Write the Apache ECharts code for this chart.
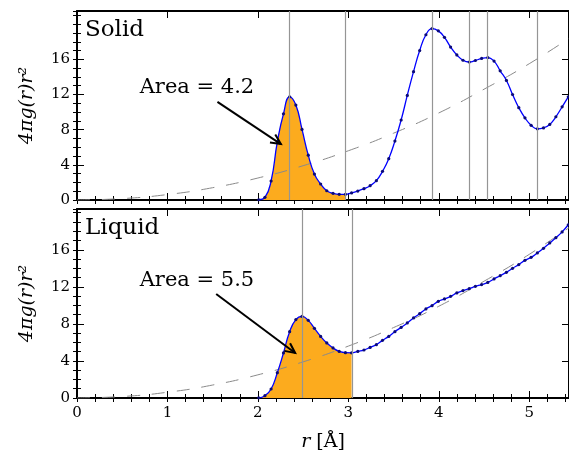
<!DOCTYPE html>
<html><head><meta charset="utf-8">
<script src="https://cdn.jsdelivr.net/npm/echarts@6/dist/echarts.min.js"></script>
<style>html,body{margin:0;padding:0;background:#fff}#c{width:569px;height:454px}</style>
</head><body><div id="c"></div>
<script>
// ---- data ----
const r = [2.009,2.078,2.146,2.215,2.283,2.351,2.420,2.488,2.557,2.625,2.694,2.762,2.831,2.899,2.968,3.036,3.105,3.173,3.241,3.310,3.378,3.447,3.515,3.584,3.652,3.721,3.789,3.858,3.926,3.995,4.063,4.131,4.200,4.268,4.337,4.405,4.474,4.542,4.611,4.679,4.748,4.816,4.885,4.953,5.021,5.090,5.158,5.227,5.295,5.364,5.432];
const solid = [0.03,0.3,2.16,6.6,9.8,11.74,10.8,8.03,5.1,2.95,1.82,1.05,0.76,0.64,0.64,0.8,1.02,1.29,1.63,2.2,3.26,4.7,6.7,9.1,11.9,14.6,17.0,18.8,19.5,19.24,18.5,17.4,16.5,15.9,15.7,15.87,16.1,16.2,15.8,14.7,13.6,12.0,10.5,9.35,8.5,8.1,8.2,8.6,9.47,10.6,11.74];
const liquid = [0.02,0.25,0.97,2.73,4.86,7.16,8.46,8.81,8.38,7.52,6.65,5.94,5.4,5.03,4.89,4.88,5.03,5.18,5.46,5.76,6.22,6.65,7.16,7.62,8.1,8.64,9.1,9.61,9.97,10.43,10.69,10.97,11.34,11.59,11.8,12.05,12.24,12.48,12.85,13.2,13.56,14.0,14.4,14.86,15.18,15.66,16.16,16.74,17.3,17.93,18.7];
const refR = [0,0.5,1,1.5,2,2.5,3,3.5,4,4.5,5,5.5];
const refV = [0,0.16,0.62,1.4,2.5,3.9,5.6,7.6,9.9,12.6,15.5,18.8];
const solidLines = [2.351,2.968,3.926,4.337,4.542,5.090];
const liquidLines = [2.488,3.036];
const fillEnd = [2.968, 3.036];
const panelNames = ['Solid','Liquid'];
const areaLabels = ['Area = 4.2','Area = 5.5'];
const areaTextPos = [[1.326,12.82],[1.326,12.72]];
const arrowFrom = [[1.553,11.17],[1.539,11.23]];
const arrowTo = [[2.254,6.36],[2.412,4.86]];
const xTicks = [0,1,2,3,4,5];
const yTicks = [0,4,8,12,16];

// ---- styling / layout ----
const FONT = 'DejaVu Serif';
const XMAX = 5.44;
const YMAX = [21.5, 20.4];
const ORANGE = '#fcab1e';
const grids = [{left:77,right:0,top:11,height:189},{left:77,right:0,top:209,height:189}];

const chart = echarts.init(document.getElementById('c'));
const xAxis = [], yAxis = [], series = [];
grids.forEach((g, gi) => {
  const spine = {show:true, onZero:false, lineStyle:{color:'#000', width:2}};
  const noLine = {show:false};
  const mk = (pos, interval, len, line, labels, extra) => Object.assign({
    type:'value', gridIndex:gi, position:pos, min:0, interval:interval,
    axisLine: line ? spine : noLine,
    axisTick:{show:true, inside:true, length:len, lineStyle:{color:'#000', width:1}},
    axisLabel:{show:labels, color:'#000', fontFamily:FONT, fontSize:15, margin:8},
    splitLine:{show:false}
  }, extra);
  const xe = {max:XMAX};
  const xMain = mk('bottom', 1, 7, true, gi === 1, Object.assign({}, xe, {
    axisLabel:{show: gi === 1, color:'#000', fontFamily:FONT, fontSize:15, margin:8, customValues:xTicks}
  }));
  if (gi === 1) {
    Object.assign(xMain, {
      name:'{i|r} [Å]', nameLocation:'middle', nameGap:35,
      nameTextStyle:{color:'#000', fontFamily:FONT, fontSize:19, rich:{i:{fontStyle:'italic', fontFamily:FONT, fontSize:19, color:'#000'}}}
    });
  }
  xAxis.push(xMain,
    mk('bottom', 0.2, 4, false, false, xe),
    mk('top', 1, 7, true, false, xe),
    mk('top', 0.2, 4, false, false, xe));
  const ye = {max:YMAX[gi]};
  const yMain = mk('left', 4, 7, true, true, Object.assign({}, ye, {
    axisTick:{show:true, inside:true, length:7, customValues:yTicks, lineStyle:{color:'#000', width:1}},
    axisLabel:{show:true, color:'#000', fontFamily:FONT, fontSize:15, margin:7, customValues:yTicks},
    name:'4πg(r)r²', nameLocation:'middle', nameGap:40, nameRotate:90,
    nameTextStyle:{color:'#000', fontFamily:FONT, fontStyle:'italic', fontSize:19}
  }));
  yAxis.push(yMain,
    mk('left', 1, 4, false, false, ye),
    mk('right', 4, 7, true, false, Object.assign({}, ye, {
      axisTick:{show:true, inside:true, length:7, customValues:yTicks, lineStyle:{color:'#000', width:1}}
    })),
    mk('right', 1, 4, false, false, ye));

  const vals = gi === 0 ? solid : liquid;
  const pts = r.map((x, i) => [x, vals[i]]);
  const xi = gi * 4, yi = gi * 4;
  const SM = 0.5;
  series.push({
    type:'line', xAxisIndex:xi, yAxisIndex:yi, z:1, smooth:SM, showSymbol:false, silent:true,
    data: pts.filter(p => p[0] <= fillEnd[gi] + 1e-9),
    lineStyle:{width:0}, areaStyle:{color:ORANGE, opacity:1}
  });
  series.push({
    type:'line', xAxisIndex:xi, yAxisIndex:yi, z:2, smooth:0.5, showSymbol:false, silent:true,
    data: refR.map((x, i) => [x, refV[i]]),
    lineStyle:{color:'#8a8a8a', width:1, type:[13,12]}
  });
  series.push({
    type:'line', xAxisIndex:xi, yAxisIndex:yi, z:3, data:[], silent:true,
    markLine:{silent:true, symbol:['none','none'], label:{show:false}, animation:false,
      lineStyle:{color:'#959595', width:1.2, type:'solid'},
      data:(gi === 0 ? solidLines : liquidLines).map(v => ({xAxis:v}))}
  });
  series.push({
    type:'line', xAxisIndex:xi, yAxisIndex:yi, z:4, smooth:SM, silent:true,
    data: pts, symbol:'circle', symbolSize:3.2, showSymbol:true,
    itemStyle:{color:'#0a0a78'},
    lineStyle:{color:'#0000ff', width:1.3}
  });
});

chart.setOption({animation:false, backgroundColor:'#fff', grid:grids, xAxis, yAxis, series});

// annotations positioned in data space
const graphic = [];
grids.forEach((g, gi) => {
  const f = {xAxisIndex:gi*4, yAxisIndex:gi*4};
  graphic.push({type:'text', z:100, x:g.left + 8, y:g.top + 19.5,
    style:{text:panelNames[gi], font:'23px "DejaVu Serif"', fill:'#000', textVerticalAlign:'middle'}});
  const tp = chart.convertToPixel(f, areaTextPos[gi]);
  graphic.push({type:'text', z:100, x:tp[0], y:tp[1],
    style:{text:areaLabels[gi], font:'21px "DejaVu Serif"', fill:'#000', textAlign:'center', textVerticalAlign:'middle'}});
  const p0 = chart.convertToPixel(f, arrowFrom[gi]);
  const p1 = chart.convertToPixel(f, arrowTo[gi]);
  const dx = p1[0]-p0[0], dy = p1[1]-p0[1], L = Math.hypot(dx, dy);
  const ux = dx/L, uy = dy/L, hl = 11, a = 0.45, c = Math.cos(a), s = Math.sin(a);
  const w1 = [p1[0] - hl*(ux*c - uy*s), p1[1] - hl*(uy*c + ux*s)];
  const w2 = [p1[0] - hl*(ux*c + uy*s), p1[1] - hl*(uy*c - ux*s)];
  graphic.push({type:'polyline', z:100, shape:{points:[p0, p1]}, style:{stroke:'#000', lineWidth:2, fill:'none'}});
  graphic.push({type:'polyline', z:100, shape:{points:[w1, p1, w2]}, style:{stroke:'#000', lineWidth:2, fill:'none'}});
});
chart.setOption({graphic});
</script>
</body></html>
